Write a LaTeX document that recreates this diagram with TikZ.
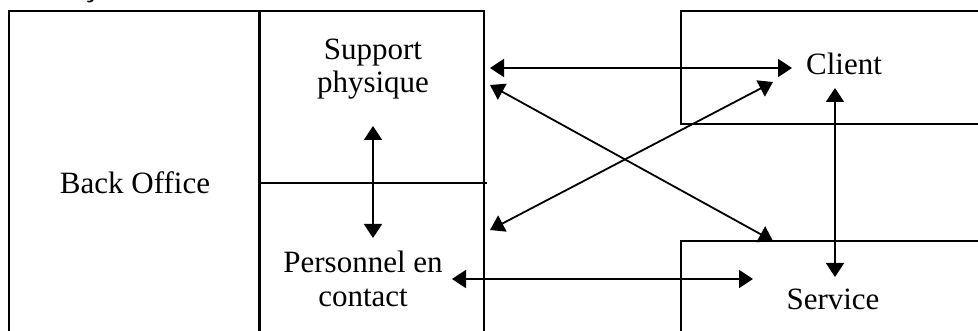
\documentclass[tikz,border=0pt]{standalone}
\usepackage{fontspec}
\setmainfont{Liberation Serif}
\usetikzlibrary{arrows.meta}
\begin{document}
\begin{tikzpicture}[x=1pt,y=-1pt,
  frame/.style={line width=2pt},
  conn/.style={line width=1.8pt, {Triangle[length=14pt,width=18pt]}-{Triangle[length=14pt,width=18pt]}},
  lbl/.style={font=\fontsize{31}{33}\selectfont, align=center, inner sep=0pt, anchor=base}]
\useasboundingbox (0,0) rectangle (978,331);
% frames
\draw[frame] (9,331) -- (9,11) -- (484,11) -- (484,331);
\draw[line width=3pt] (259,11) -- (259,331);
\draw[line width=1.5pt] (259,183) -- (487,183);
\draw[frame] (978,11) -- (681,11) -- (681,124) -- (978,124);
\draw[frame] (978,241) -- (681,241) -- (681,331);
% cut-off character at top
\begin{scope}
\clip (0,0) rectangle (978,331);
\node[lbl, font=\fontsize{31}{32}\selectfont\bfseries] (cut) at (90,-3) {ç};
\end{scope}
% labels
\node[lbl] (support) at (373,93) {Support\\physique};
\node[lbl] (back) at (135,194) {Back Office};
\node[lbl] (personnel) at (363,306) {Personnel en\\contact};
\node[lbl] (client) at (844,75) {Client};
\node[lbl] (service) at (833,310) {Service};
% connector ends
\coordinate (sA) at (490,68);
\coordinate (cA) at (792,68);
\coordinate (sB) at (490,85);
\coordinate (vB) at (773,241);
\coordinate (pB) at (490,230);
\coordinate (cB) at (773,82);
\coordinate (pA) at (452,279);
\coordinate (vA) at (753,279);
\coordinate (cC) at (835,88);
\coordinate (vC) at (835,277);
\coordinate (sC) at (373,126);
\coordinate (pC) at (373,238);
% connectors
\draw[conn] (sA) -- (cA);
\draw[conn] (sB) -- (vB);
\draw[conn] (pB) -- (cB);
\draw[conn] (pA) -- (vA);
\draw[conn] (cC) -- (vC);
\draw[conn] (sC) -- (pC);
\end{tikzpicture}
\end{document}
